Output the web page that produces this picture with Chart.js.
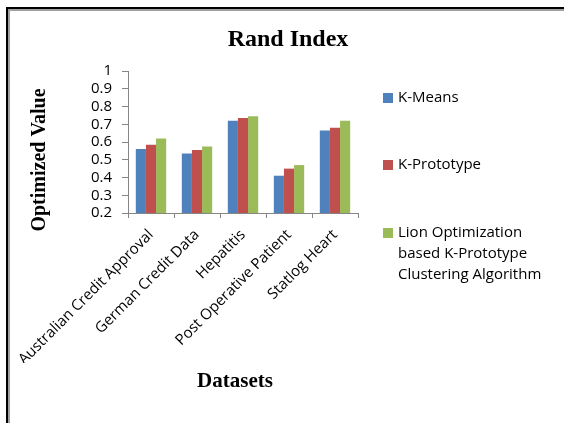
<!DOCTYPE html>
<html>
<head>
<meta charset="utf-8">
<script src="https://cdn.jsdelivr.net/npm/chart.js@4"></script>
<style>
  html, body { margin: 0; padding: 0; background: #fff; }
  #wrap { width: 564px; height: 423px; }
</style>
</head>
<body>
<div id="wrap"><canvas id="chart" width="564" height="423"></canvas></div>
<script>
// Datasets compared
const categories = [
  'Australian Credit Approval',
  'German Credit Data',
  'Hepatitis',
  'Post Operative Patient',
  'Statlog Heart'
];

// Rand index per algorithm
const kMeans = [0.56, 0.535, 0.72, 0.41, 0.665];
const kPrototype = [0.585, 0.555, 0.735, 0.45, 0.68];
const lionKPrototype = [0.62, 0.575, 0.745, 0.47, 0.72];

const seriesNames = [
  'K-Means',
  'K-Prototype',
  'Lion Optimization based K-Prototype Clustering Algorithm'
];
// Legend text broken into lines
const legendLines = [
  ['K-Means'],
  ['K-Prototype'],
  ['Lion Optimization', 'based K-Prototype', 'Clustering Algorithm']
];

const colors = ['#4F81BD', '#C0504D', '#9BBB59'];
const sansFont = '"Open Sans", "Liberation Sans", sans-serif';
const serifFont = '"Liberation Serif", "DejaVu Serif", serif';

// Page frame, titles and side legend
const decorations = {
  id: 'decorations',
  beforeDraw(chart) {
    const ctx = chart.ctx;
    ctx.save();
    ctx.fillStyle = '#ffffff';
    ctx.fillRect(0, 0, chart.width, chart.height);
    // double frame line along top and left
    ctx.fillStyle = '#000000';
    ctx.fillRect(6, 7, chart.width, 2);
    ctx.fillRect(6, 7, 2, chart.height);
    ctx.fillStyle = '#a0a0a0';
    ctx.fillRect(8, 9, chart.width, 2);
    ctx.fillRect(8, 9, 2, chart.height);
    ctx.restore();
  },
  afterDraw(chart) {
    const ctx = chart.ctx;
    ctx.save();
    ctx.fillStyle = '#000';
    ctx.textAlign = 'center';
    ctx.textBaseline = 'alphabetic';
    ctx.font = 'bold 24px ' + serifFont;
    ctx.fillText('Rand Index', 288, 46);

    ctx.font = 'bold 21px ' + serifFont;
    ctx.fillText('Datasets', 235, 387);

    ctx.save();
    ctx.translate(45, 160);
    ctx.rotate(-Math.PI / 2);
    ctx.font = 'bold 20px ' + serifFont;
    ctx.fillText('Optimized Value', 0, 0);
    ctx.restore();

    // legend
    const itemY = [98, 165, 233];
    ctx.textAlign = 'left';
    ctx.textBaseline = 'middle';
    ctx.font = '15px ' + sansFont;
    chart.data.datasets.forEach((ds, i) => {
      ctx.fillStyle = ds.backgroundColor;
      ctx.fillRect(383, itemY[i] - 5, 10, 10);
      ctx.fillStyle = '#000';
      legendLines[i].forEach((line, j) => {
        ctx.fillText(line, 398, itemY[i] + j * 21);
      });
    });
    ctx.restore();
  }
};

new Chart(document.getElementById('chart'), {
  type: 'bar',
  data: {
    labels: categories,
    datasets: [
      { label: seriesNames[0], data: kMeans, backgroundColor: colors[0] },
      { label: seriesNames[1], data: kPrototype, backgroundColor: colors[1] },
      { label: seriesNames[2], data: lionKPrototype, backgroundColor: colors[2] }
    ]
  },
  options: {
    responsive: false,
    animation: false,
    devicePixelRatio: 1,
    layout: { padding: { left: 68, top: 71, right: 206, bottom: 60 } },
    datasets: { bar: { categoryPercentage: 0.66, barPercentage: 1.0 } },
    plugins: {
      legend: { display: false },
      title: { display: false },
      tooltip: { enabled: false }
    },
    scales: {
      x: {
        grid: {
          offset: true,
          drawOnChartArea: false,
          drawTicks: true,
          tickLength: 5,
          color: '#868686'
        },
        border: { color: '#868686', width: 1 },
        ticks: {
          minRotation: 45,
          maxRotation: 45,
          autoSkip: false,
          padding: 8,
          color: '#000',
          font: { family: sansFont, size: 15 }
        },
        afterFit(scale) { scale.height = 150; }
      },
      y: {
        min: 0.2,
        max: 1,
        grid: {
          drawOnChartArea: false,
          drawTicks: true,
          tickLength: 6,
          color: '#868686'
        },
        border: { color: '#868686', width: 1 },
        ticks: {
          stepSize: 0.1,
          autoSkip: false,
          padding: 10,
          color: '#000',
          font: { family: sansFont, size: 15 },
          callback: (v) => (Math.abs(v - 1) < 1e-9 ? '1' : v.toFixed(1))
        },
        afterFit(scale) { scale.width = 60; }
      }
    }
  },
  plugins: [decorations]
});
</script>
</body>
</html>
